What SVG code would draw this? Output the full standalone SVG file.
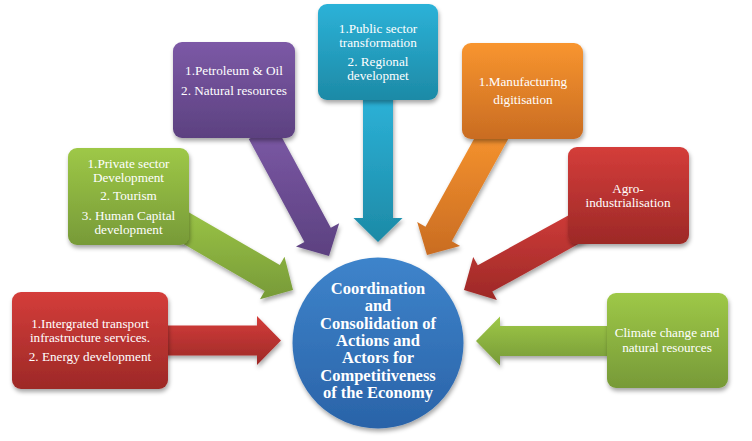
<svg xmlns="http://www.w3.org/2000/svg" width="752" height="441" viewBox="0 0 752 441">
<defs>
<filter id="sh" x="-20%" y="-20%" width="140%" height="150%">
<feDropShadow dx="1" dy="3" stdDeviation="2.2" flood-color="#000" flood-opacity="0.35"/>
</filter>
<linearGradient id="gRed" x1="0" y1="0" x2="0" y2="1"><stop offset="0" stop-color="#d43d3a"/><stop offset="1" stop-color="#9d2927"/></linearGradient>
<linearGradient id="gGreen" x1="0" y1="0" x2="0" y2="1"><stop offset="0" stop-color="#9ec847"/><stop offset="1" stop-color="#779a38"/></linearGradient>
<linearGradient id="gPurple" x1="0" y1="0" x2="0" y2="1"><stop offset="0" stop-color="#7c59a6"/><stop offset="1" stop-color="#5c4180"/></linearGradient>
<linearGradient id="gTeal" x1="0" y1="0" x2="0" y2="1"><stop offset="0" stop-color="#2cb2d8"/><stop offset="1" stop-color="#1d8aa6"/></linearGradient>
<linearGradient id="gOrange" x1="0" y1="0" x2="0" y2="1"><stop offset="0" stop-color="#f8952f"/><stop offset="1" stop-color="#c96c22"/></linearGradient>
<linearGradient id="gBlue" x1="0" y1="0" x2="0" y2="1"><stop offset="0" stop-color="#3e84cb"/><stop offset="1" stop-color="#2a63a8"/></linearGradient>
</defs>
<style>
.box{filter:url(#sh);}
.arr{filter:url(#sh);}
.t{font-family:"Liberation Serif","Times New Roman",serif;font-size:13.2px;fill:#ffffff;text-anchor:middle;}
.c{font-family:"Liberation Serif","Times New Roman",serif;font-size:16.5px;font-weight:bold;fill:#ffffff;text-anchor:middle;}
</style>
<rect width="752" height="441" fill="#ffffff"/>
<g id="connectors">
<polygon class="arr" fill="url(#gRed)" points="160,325.5 257,325.5 257,316 281,340.5 257,365 257,355.5 160,355.5"/>
<polygon class="arr" fill="url(#gGreen)" points="152.5,226 264.7,291 260,299.2 293,290 284.5,256.8 279.8,265 167.5,200"/>
<polygon class="arr" fill="url(#gPurple)" points="248.8,139.1 304.4,242 296,246.5 329,256 339.2,223.2 330.8,227.8 275.2,124.9"/>
<polygon class="arr" fill="url(#gTeal)" points="363,95 363,218 353.5,218 378,242 402.5,218 393,218 393,95"/>
<polygon class="arr" fill="url(#gOrange)" points="481.9,124.7 425.5,226.7 417.2,222.1 427,255 460.1,245.9 451.8,241.3 508.1,139.3"/>
<polygon class="arr" fill="url(#gRed)" points="592.8,201.9 477.8,265.3 473.2,257 464,290 496.9,299.9 492.3,291.6 607.2,228.1"/>
<polygon class="arr" fill="url(#gGreen)" points="615,326 500,326 500,316.5 476,341 500,365.5 500,356 615,356"/>
</g>
<g id="node-transport">
<rect class="box" x="12" y="292" width="156" height="97" rx="9" fill="url(#gRed)"/>
<text class="t" x="90" y="327.5">1.Intergrated transport</text>
<text class="t" x="90" y="341.5">infrastructure services.</text>
<text class="t" x="90" y="361">2. Energy development</text>
</g>
<g id="node-private">
<rect class="box" x="68" y="148" width="121" height="97" rx="9" fill="url(#gGreen)"/>
<text class="t" x="128.5" y="167.5">1.Private sector</text>
<text class="t" x="128.5" y="181.5">Development</text>
<text class="t" x="128.5" y="200">2. Tourism</text>
<text class="t" x="128.5" y="219.5">3. Human Capital</text>
<text class="t" x="128.5" y="233.5">development</text>
</g>
<g id="node-petroleum">
<rect class="box" x="173" y="42" width="122" height="96" rx="9" fill="url(#gPurple)"/>
<text class="t" x="234" y="75">1.Petroleum &amp; Oil</text>
<text class="t" x="234" y="95">2. Natural resources</text>
</g>
<g id="node-public">
<rect class="box" x="318" y="4" width="120" height="96" rx="9" fill="url(#gTeal)"/>
<text class="t" x="378" y="32.5">1.Public sector</text>
<text class="t" x="378" y="46.5">transformation</text>
<text class="t" x="378" y="65.5">2. Regional</text>
<text class="t" x="378" y="79.5">developmet</text>
</g>
<g id="node-manufacturing">
<rect class="box" x="462" y="43" width="121" height="96" rx="9" fill="url(#gOrange)"/>
<text class="t" x="523" y="86">1.Manufacturing</text>
<text class="t" x="523" y="104">digitisation</text>
</g>
<g id="node-agro">
<rect class="box" x="568" y="147" width="121" height="97" rx="9" fill="url(#gRed)"/>
<text class="t" x="628" y="193">Agro-</text>
<text class="t" x="628" y="207">industrialisation</text>
</g>
<g id="node-climate">
<rect class="box" x="607" y="293" width="121" height="95" rx="9" fill="url(#gGreen)"/>
<text class="t" x="667" y="337">Climate change and</text>
<text class="t" x="667" y="352">natural resources</text>
</g>
<g id="node-center">
<circle class="box" cx="378" cy="343" r="85.5" fill="url(#gBlue)"/>
<text class="c" x="378" y="294">Coordination</text>
<text class="c" x="378" y="311.3">and</text>
<text class="c" x="378" y="328.7">Consolidation of</text>
<text class="c" x="378" y="346">Actions and</text>
<text class="c" x="378" y="363.3">Actors for</text>
<text class="c" x="378" y="380.7">Competitiveness</text>
<text class="c" x="378" y="398">of the Economy</text>
</g>
</svg>
